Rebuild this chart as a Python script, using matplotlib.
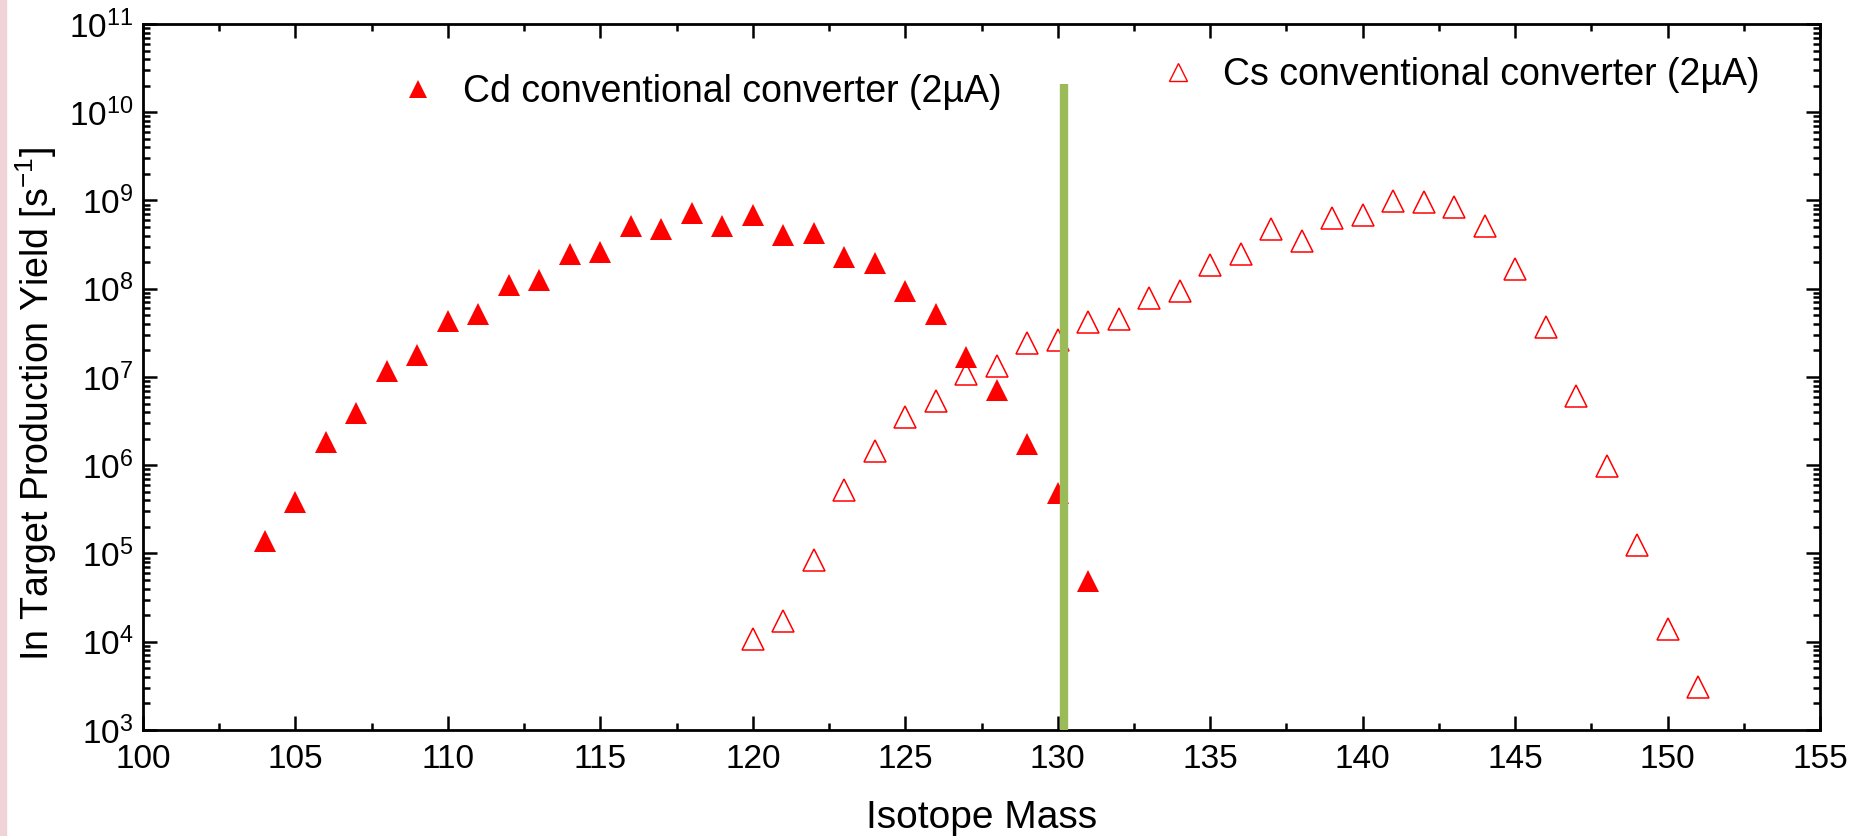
import matplotlib

matplotlib.use("Agg")
import matplotlib.pyplot as plt
from matplotlib.lines import Line2D
from matplotlib.patches import Rectangle
from matplotlib.ticker import LogLocator, MultipleLocator, NullFormatter

plt.rcParams["font.family"] = ["Liberation Sans", "DejaVu Sans"]
plt.rcParams["mathtext.fontset"] = "custom"
plt.rcParams["mathtext.rm"] = "Liberation Sans"
plt.rcParams["mathtext.it"] = "Liberation Sans:italic"

# Cd conventional converter (filled)
cd_mass = list(range(104, 132))
cd_yield = [1.4e5, 3.8e5, 1.85e6, 3.9e6, 1.18e7, 1.77e7, 4.3e7, 5.2e7,
            1.1e8, 1.24e8, 2.5e8, 2.6e8, 5.1e8, 4.7e8, 7.2e8, 5.2e8,
            6.9e8, 4.1e8, 4.3e8, 2.3e8, 1.97e8, 9.4e7, 5.2e7, 1.7e7,
            7.2e6, 1.75e6, 4.9e5, 4.9e4]

# Cs conventional converter (open)
cs_mass = list(range(120, 152))
cs_yield = [1.07e4, 1.7e4, 8.5e4, 5.2e5, 1.45e6, 3.5e6, 5.3e6, 1.07e7,
            1.34e7, 2.4e7, 2.6e7, 4.2e7, 4.5e7, 7.8e7, 9.4e7, 1.85e8,
            2.45e8, 4.8e8, 3.5e8, 6.3e8, 6.9e8, 9.8e8, 9.5e8, 8.4e8,
            5.2e8, 1.68e8, 3.7e7, 6.1e6, 9.8e5, 1.24e5, 1.4e4, 3.1e3]

cut_mass = 130.2
cut_top = 2.1e10

fig = plt.figure(figsize=(18.54, 8.36), dpi=100)
fig.patches.append(Rectangle((0, 0), 0.0035, 1, transform=fig.transFigure,
                             color="#f0d3d6", zorder=0))
ax = fig.add_axes([0.0771, 0.1268, 0.9046, 0.8445])

ax.plot(cd_mass, cd_yield, linestyle="none", marker="^", markersize=16,
        color="red", markeredgewidth=0)
ax.plot(cs_mass, cs_yield, linestyle="none", marker="^", markersize=16,
        markerfacecolor="none", markeredgecolor="red", markeredgewidth=1.1)
ax.vlines(cut_mass, 1e3, cut_top, color="#9bbb59", linewidth=6, zorder=3)

ax.set_yscale("log")
ax.set_xlim(100, 155)
ax.set_ylim(1e3, 1e11)
ax.xaxis.set_major_locator(MultipleLocator(5))
ax.xaxis.set_minor_locator(MultipleLocator(2.5))
ax.yaxis.set_major_locator(LogLocator(base=10, numticks=20))
ax.yaxis.set_minor_locator(LogLocator(base=10, subs=range(2, 10), numticks=20))
ax.yaxis.set_minor_formatter(NullFormatter())

ax.tick_params(which="both", direction="in", top=True, right=True,
               labelsize=24, width=1.8)
ax.tick_params(axis="x", pad=10)
ax.tick_params(axis="y", pad=7)
ax.tick_params(which="major", length=10)
ax.tick_params(which="minor", length=5)
for s in ax.spines.values():
    s.set_linewidth(2)

ax.set_xlabel("Isotope Mass", fontsize=28, labelpad=18)
ax.set_ylabel("In Target Production Yield [s$^{-1}$]", fontsize=27)
ax.yaxis.set_label_coords(-0.050, 0.462)

cd_handle = Line2D([], [], linestyle="none", marker="^", markersize=13,
                   color="red", markeredgewidth=0)
cs_handle = Line2D([], [], linestyle="none", marker="^", markersize=13,
                   markerfacecolor="none", markeredgecolor="red",
                   markeredgewidth=1.0)
leg1 = ax.legend([cd_handle], ["Cd conventional converter (2\u00b5A)"],
                 loc="upper left", bbox_to_anchor=(0.1436, 0.95),
                 frameon=False, fontsize=27, handletextpad=0.7,
                 handlelength=1.0, borderaxespad=0)
ax.add_artist(leg1)
ax.legend([cs_handle], ["Cs conventional converter (2\u00b5A)"],
          loc="upper left", bbox_to_anchor=(0.597, 0.975),
          frameon=False, fontsize=27, handletextpad=0.7, handlelength=1.0,
          borderaxespad=0)

fig.savefig("out.png", dpi=100)
